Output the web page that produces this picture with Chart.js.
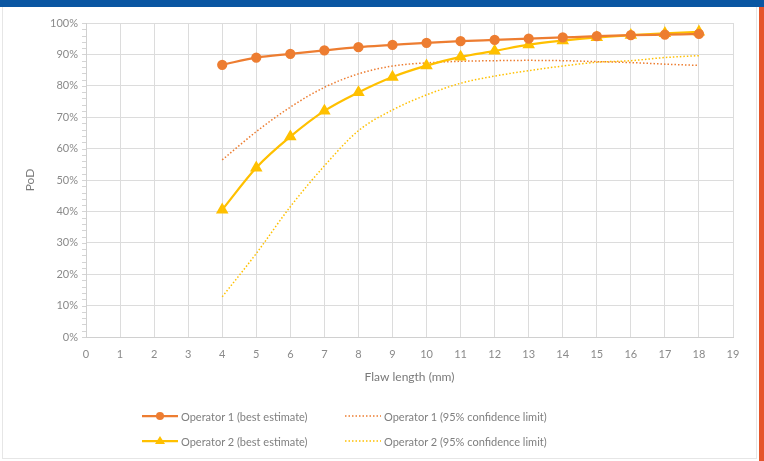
<!DOCTYPE html>
<html>
<head>
<meta charset="utf-8">
<script src="https://cdn.jsdelivr.net/npm/chart.js@4"></script>
<style>
  html, body { margin: 0; padding: 0; background: #fff; }
  body { width: 764px; height: 461px; position: relative; overflow: hidden; font-family: Lato, "Open Sans", sans-serif; }
  .top-bar { position: absolute; left: 0; top: 0; width: 764px; height: 7px; background: #0a56a2; }
  .side-bar { position: absolute; left: 759px; top: 7px; width: 5px; height: 454px; background: #e5552a; }
  .frame { position: absolute; left: 2px; top: 7px; width: 753px; height: 451px; border: 1px solid #e6e6e6; border-top: none; }
  #chartWrap { position: absolute; left: 0; top: 0; width: 764px; height: 461px; }
  .legend-item { position: absolute; height: 14px; font-size: 11px; color: #7f7f7f; display: flex; align-items: center; white-space: nowrap; }
  .legend-item svg { margin-right: 3px; }
</style>
</head>
<body>
<div class="top-bar"></div>
<div class="frame"></div>
<div class="side-bar"></div>
<div id="chartWrap"><canvas id="podChart" width="764" height="461"></canvas></div>
<div id="legend"></div>

<script>
const flawLengths = [4, 5, 6, 7, 8, 9, 10, 11, 12, 13, 14, 15, 16, 17, 18];
const op1Best = [86.7, 89.0, 90.2, 91.3, 92.3, 93.0, 93.7, 94.2, 94.6, 95.0, 95.4, 95.8, 96.1, 96.3, 96.5];
const op2Best = [40.5, 53.9, 63.8, 72.0, 77.9, 82.8, 86.4, 89.2, 91.1, 93.1, 94.4, 95.4, 96.1, 96.7, 97.2];
const op1Limit = [56.4, 65.4, 73.2, 79.5, 83.8, 86.3, 87.3, 87.8, 88.0, 88.1, 88.0, 87.7, 87.4, 86.9, 86.5];
const op2Limit = [12.8, 26.6, 41.5, 54.5, 65.7, 72.3, 77.1, 80.8, 83.1, 84.8, 86.3, 87.5, 88.0, 89.0, 89.6];
const xTicks = [0, 1, 2, 3, 4, 5, 6, 7, 8, 9, 10, 11, 12, 13, 14, 15, 16, 17, 18, 19];
const yTicks = [0, 10, 20, 30, 40, 50, 60, 70, 80, 90, 100];

const ORANGE = "#ed7d31";
const GOLD = "#ffc000";
const TEXT_GREY = "#8a8a8a";

const toPoints = (values) => values.map((v, i) => ({ x: flawLengths[i], y: v }));

// small outside ticks on the value axis, every 2%
const minorTicks = {
  id: "minorTicks",
  afterDraw(chart) {
    const yScale = chart.scales.y;
    const ctx = chart.ctx;
    ctx.save();
    ctx.strokeStyle = "#d4d4d4";
    ctx.lineWidth = 1;
    for (let v = 0; v <= 100; v += 2) {
      const py = Math.round(yScale.getPixelForValue(v)) + 0.5;
      ctx.beginPath();
      ctx.moveTo(chart.chartArea.left - 4, py);
      ctx.lineTo(chart.chartArea.left, py);
      ctx.stroke();
    }
    ctx.restore();
  }
};

new Chart(document.getElementById("podChart"), {
  type: "line",
  data: {
    datasets: [
      {
        label: "Operator 1 (best estimate)",
        data: toPoints(op1Best),
        borderColor: ORANGE,
        backgroundColor: ORANGE,
        borderWidth: 2.25,
        pointStyle: "circle",
        pointRadius: 4,
        cubicInterpolationMode: "monotone"
      },
      {
        label: "Operator 2 (best estimate)",
        data: toPoints(op2Best),
        borderColor: GOLD,
        backgroundColor: GOLD,
        borderWidth: 2.25,
        pointStyle: "triangle",
        pointRadius: 5,
        cubicInterpolationMode: "monotone"
      },
      {
        label: "Operator 1 (95% confidence limit)",
        data: toPoints(op1Limit),
        borderColor: ORANGE,
        borderWidth: 1.5,
        borderDash: [1.5, 2],
        pointRadius: 0,
        cubicInterpolationMode: "monotone"
      },
      {
        label: "Operator 2 (95% confidence limit)",
        data: toPoints(op2Limit),
        borderColor: GOLD,
        borderWidth: 1.5,
        borderDash: [1.5, 2],
        pointRadius: 0,
        cubicInterpolationMode: "monotone"
      }
    ]
  },
  options: {
    responsive: false,
    animation: false,
    layout: { padding: { top: 23, right: 31, bottom: 0, left: 0 } },
    plugins: {
      legend: { display: false },
      tooltip: { enabled: false }
    },
    scales: {
      x: {
        type: "linear",
        min: 0,
        max: 19,
        afterBuildTicks: (scale) => { scale.ticks = xTicks.map((v) => ({ value: v })); },
        afterFit: (scale) => { scale.height = 124; },
        grid: { color: "#dcdcdc", drawTicks: false },
        border: { color: "#d0d0d0" },
        ticks: { color: TEXT_GREY, padding: 11, font: { size: 11, family: "Lato" } },
        title: {
          display: true,
          text: "Flaw length (mm)",
          color: "#7a7a7a",
          font: { size: 12, family: "Lato" },
          padding: { top: 0, bottom: 77 }
        }
      },
      y: {
        min: 0,
        max: 100,
        afterBuildTicks: (scale) => { scale.ticks = yTicks.map((v) => ({ value: v })); },
        afterFit: (scale) => { scale.width = 86; },
        grid: { color: "#dcdcdc", drawTicks: false },
        border: { color: "#d0d0d0" },
        ticks: {
          color: TEXT_GREY,
          padding: 8,
          font: { size: 11, family: "Lato" },
          callback: (v) => v + "%"
        },
        title: {
          display: true,
          text: "PoD",
          color: "#7a7a7a",
          font: { size: 12, family: "Lato" },
          padding: { top: 23, bottom: 0 }
        }
      }
    }
  },
  plugins: [minorTicks]
});

// legend in two rows like the original
const legendItems = [
  { text: "Operator 1 (best estimate)", color: ORANGE, marker: "circle", dotted: false, left: 142, top: 409 },
  { text: "Operator 1 (95% confidence limit)", color: ORANGE, marker: null, dotted: true, left: 345, top: 409 },
  { text: "Operator 2 (best estimate)", color: GOLD, marker: "triangle", dotted: false, left: 142, top: 434 },
  { text: "Operator 2 (95% confidence limit)", color: GOLD, marker: null, dotted: true, left: 345, top: 434 }
];

const legendEl = document.getElementById("legend");
legendItems.forEach((item) => {
  const line = item.dotted
    ? `<line x1="0" y1="7" x2="36" y2="7" stroke="${item.color}" stroke-width="1.4" stroke-dasharray="1.5 2"/>`
    : `<line x1="0" y1="7" x2="36" y2="7" stroke="${item.color}" stroke-width="2.25"/>`;
  let marker = "";
  if (item.marker === "circle") marker = `<circle cx="18" cy="7" r="4" fill="${item.color}"/>`;
  if (item.marker === "triangle") marker = `<polygon points="18,2 23,10 13,10" fill="${item.color}"/>`;
  const div = document.createElement("div");
  div.className = "legend-item";
  div.style.left = item.left + "px";
  div.style.top = item.top + "px";
  div.innerHTML = `<svg width="36" height="14">${line}${marker}</svg><span>${item.text}</span>`;
  legendEl.appendChild(div);
});
</script>
</body>
</html>
